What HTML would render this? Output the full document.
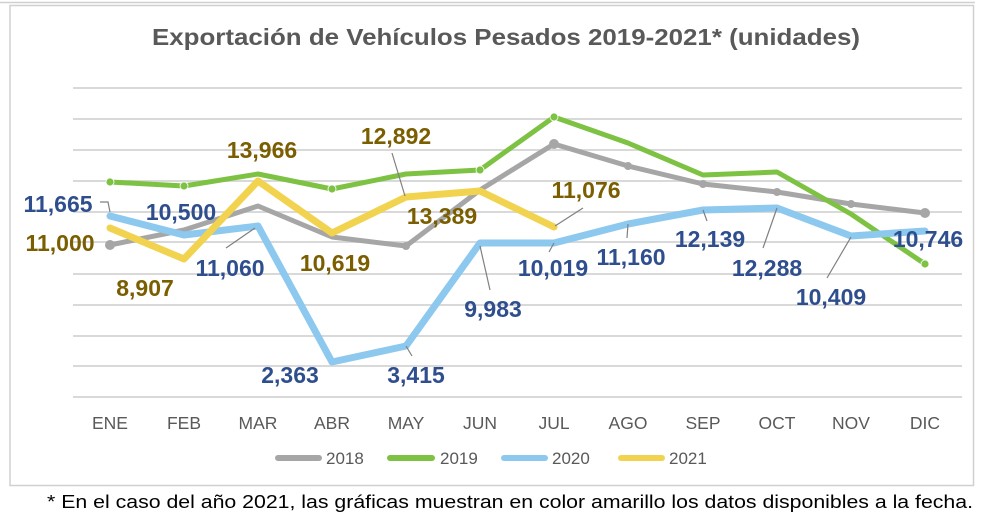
<!DOCTYPE html>
<html><head><meta charset="utf-8"><style>
html,body{margin:0;padding:0;background:#fff;}
svg{display:block;font-family:"Liberation Sans",sans-serif;}
.v{font-weight:bold;font-size:23px;text-anchor:middle;letter-spacing:0px}
.b{fill:#2F4E8E}.o{fill:#7A5E00}
.ax{font-size:17.5px;fill:#595959;text-anchor:middle}
</style></head><body>
<svg width="999" height="526" viewBox="0 0 999 526">
<line x1="0" y1="2.5" x2="975" y2="2.5" stroke="#d0d0d0" stroke-width="1.5"/>
<rect x="10" y="5.5" width="963.5" height="480" fill="none" stroke="#d0d0d0" stroke-width="1.5"/>
<text x="152" y="45" textLength="708" lengthAdjust="spacingAndGlyphs" font-size="23" font-weight="bold" fill="#595959">Exportación de Vehículos Pesados 2019-2021* (unidades)</text>
<g stroke="#d9d9d9" stroke-width="2">
<line x1="73" y1="88" x2="962" y2="88"/><line x1="73" y1="119" x2="962" y2="119"/><line x1="73" y1="150" x2="962" y2="150"/><line x1="73" y1="181" x2="962" y2="181"/><line x1="73" y1="212" x2="962" y2="212"/><line x1="73" y1="242" x2="962" y2="242"/><line x1="73" y1="274" x2="962" y2="274"/><line x1="73" y1="305" x2="962" y2="305"/><line x1="73" y1="336" x2="962" y2="336"/><line x1="73" y1="366" x2="962" y2="366"/><line x1="73" y1="397" x2="962" y2="397"/>
</g>
<g fill="none" stroke-linejoin="round" stroke-linecap="round">
<polyline stroke="#A6A6A6" stroke-width="5" points="110,245 184,230 258,206 332,237 406,246 480,190 554,144 628,166 703,184 777,192 851,204 925,213"/>
<polyline stroke="#7DC242" stroke-width="5" points="110,182 184,186 258,174 332,189 406,174 480,170 554,117 628,143 703,175 777,172 851,214 925,264"/>
<polyline stroke="#8DC8EE" stroke-width="7" points="110,216 184,235 258,226 332,362 406,346 480,243 554,243 628,224 703,210 777,208 851,236 925,231"/>
<polyline stroke="#F2D34F" stroke-width="7" points="110,228 184,259 258,181 332,233 406,197 480,191 554,227"/>
</g>
<g fill="#A6A6A6"><circle cx="110" cy="245" r="5"/><circle cx="925" cy="213" r="5"/><circle cx="554" cy="144" r="5"/><circle cx="628" cy="166" r="4"/><circle cx="703" cy="184" r="4"/><circle cx="777" cy="192" r="4"/><circle cx="851" cy="204" r="4"/><circle cx="406" cy="246" r="4"/></g>
<g fill="#7DC242" stroke="#fff" stroke-width="0.8"><circle cx="110" cy="182" r="4"/><circle cx="184" cy="186" r="4"/><circle cx="332" cy="189" r="4"/><circle cx="480" cy="170" r="4"/><circle cx="554" cy="117" r="4"/><circle cx="925" cy="264" r="4"/></g>
<g stroke="#808080" stroke-width="1.2" fill="none">
<polyline points="100,202 108,202 110,212"/><line x1="226" y1="248" x2="255" y2="228"/><line x1="392" y1="153" x2="405" y2="196"/><line x1="480" y1="246" x2="490" y2="290"/><line x1="555" y1="226" x2="583" y2="208"/><line x1="628" y1="224" x2="627" y2="238"/><line x1="703" y1="210" x2="707" y2="221"/><line x1="763" y1="248" x2="777" y2="208"/><line x1="827" y1="278" x2="851" y2="237"/><line x1="554" y1="243" x2="549" y2="252"/><line x1="406" y1="346" x2="412" y2="356"/>
</g>
<text class="v b" x="58" y="212">11,665</text>
<text class="v o" x="60" y="251">11,000</text>
<text class="v b" x="181" y="220">10,500</text>
<text class="v o" x="145" y="296">8,907</text>
<text class="v b" x="230" y="276">11,060</text>
<text class="v o" x="262" y="158">13,966</text>
<text class="v o" x="335" y="271">10,619</text>
<text class="v o" x="396" y="144">12,892</text>
<text class="v o" x="442" y="224">13,389</text>
<text class="v b" x="290" y="383">2,363</text>
<text class="v b" x="416" y="383">3,415</text>
<text class="v b" x="493" y="317">9,983</text>
<text class="v b" x="553" y="276">10,019</text>
<text class="v o" x="586" y="198">11,076</text>
<text class="v b" x="631" y="265">11,160</text>
<text class="v b" x="710" y="247">12,139</text>
<text class="v b" x="767" y="276">12,288</text>
<text class="v b" x="831" y="305">10,409</text>
<text class="v b" x="928" y="247">10,746</text>
<g>
<text class="ax" x="110" y="429">ENE</text><text class="ax" x="184" y="429">FEB</text><text class="ax" x="258" y="429">MAR</text><text class="ax" x="332" y="429">ABR</text><text class="ax" x="406" y="429">MAY</text><text class="ax" x="480" y="429">JUN</text><text class="ax" x="554" y="429">JUL</text><text class="ax" x="628" y="429">AGO</text><text class="ax" x="703" y="429">SEP</text><text class="ax" x="777" y="429">OCT</text><text class="ax" x="851" y="429">NOV</text><text class="ax" x="925" y="429">DIC</text>
</g>
<g stroke-width="6" stroke-linecap="round">
<line x1="278" y1="458" x2="319" y2="458" stroke="#A6A6A6"/><line x1="390" y1="458" x2="432" y2="458" stroke="#7DC242"/><line x1="504" y1="458" x2="545" y2="458" stroke="#8DC8EE"/><line x1="621" y1="458" x2="662" y2="458" stroke="#F2D34F"/>
</g>
<g font-size="17" fill="#595959">
<text x="326" y="464">2018</text><text x="440" y="464">2019</text><text x="552" y="464">2020</text><text x="669" y="464">2021</text>
</g>
<text x="47" y="508" textLength="926" lengthAdjust="spacingAndGlyphs" font-size="18" fill="#000">* En el caso del año 2021, las gráficas muestran en color amarillo los datos disponibles a la fecha.</text>
</svg>
</body></html>
